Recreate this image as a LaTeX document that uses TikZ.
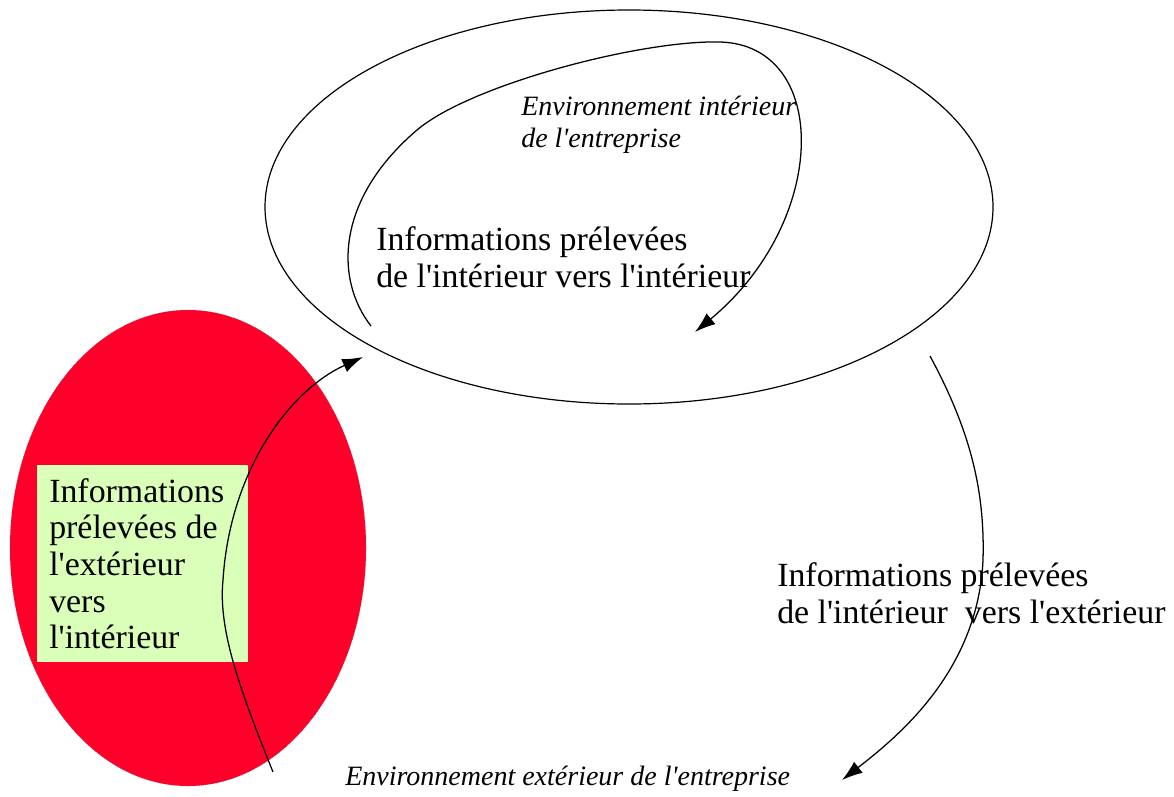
\documentclass[tikz,border=0pt]{standalone}
\usepackage{fontspec}
\setmainfont{Liberation Serif}
\usetikzlibrary{arrows.meta,shapes.geometric}
\definecolor{envred}{RGB}{255,0,43}
\definecolor{notegreen}{RGB}{218,255,184}
\newcommand{\apos}{\textquotesingle}
\begin{document}
\begin{tikzpicture}[x=0.75pt,y=-0.75pt,
  flow/.style={line width=0.95pt,-{Latex[length=15.5pt,width=10.5pt]}},
  infotext/.style={inner sep=0pt,anchor=base west,align=flush left,
    font=\fontsize{25.4}{27.75}\selectfont},
  envtext/.style={inner sep=0pt,anchor=base west,align=flush left,
    font=\fontsize{21}{24}\selectfont\itshape}]
\useasboundingbox (0,0) rectangle (1174,796);

% inner environment of the company
\node (inner) [ellipse,draw,line width=0.9pt,inner sep=0pt,
  minimum width=546pt,minimum height=295.5pt] at (629,207) {};
% outer environment (red zone)
\node (outer) [ellipse,fill=envred,draw=black!60,densely dotted,line width=0.4pt,
  inner sep=0pt,minimum width=267pt,minimum height=357pt] at (188,548) {};
% note box on the red zone
\node (note) [anchor=north west,fill=notegreen,inner xsep=9pt,inner ysep=0pt,
  text width=140.25pt,minimum height=147.75pt,align=flush left,
  font=\fontsize{25.4}{27.5}\selectfont] at (37,465)
  {Informations\\prélevées de\\l\apos extérieur\\vers\\l\apos intérieur};

% labels (anchored on the baseline of their last line)
\node[envtext] (envint) at (521,147) {Environnement intérieur\\de l\apos entreprise};
\node[infotext] (intint) at (376,287) {Informations prélevées\\de l\apos intérieur vers l\apos intérieur};
\node[infotext] (intext) at (777,623) {Informations prélevées\\de l\apos intérieur\ \ vers l\apos extérieur};
\node[envtext] (envext) at (345,785) {Environnement extérieur de l\apos entreprise};

% flow end points
\coordinate (a1s) at (273,772);
\coordinate (a1e) at (363,357);
\coordinate (a2s) at (371,326);
\coordinate (a2e) at (695,332);
\coordinate (a3s) at (930,356);
\coordinate (a3e) at (842,780);

% exterior -> interior
\draw[flow] (a1s) .. controls (240,690) and (218,630) .. (223,580)
  .. controls (230,470) and (290,390) .. (a1e);
% interior -> interior
\draw[flow] (a2s) .. controls (335,280) and (335,200) .. (417,130)
  .. controls (470,85) and (640,40) .. (720,42)
  .. controls (830,45) and (830,220) .. (a2e);
% interior -> exterior
\draw[flow] (a3s) .. controls (970,430) and (985,490) .. (983,560)
  .. controls (978,670) and (900,735) .. (a3e);
\end{tikzpicture}
\end{document}
